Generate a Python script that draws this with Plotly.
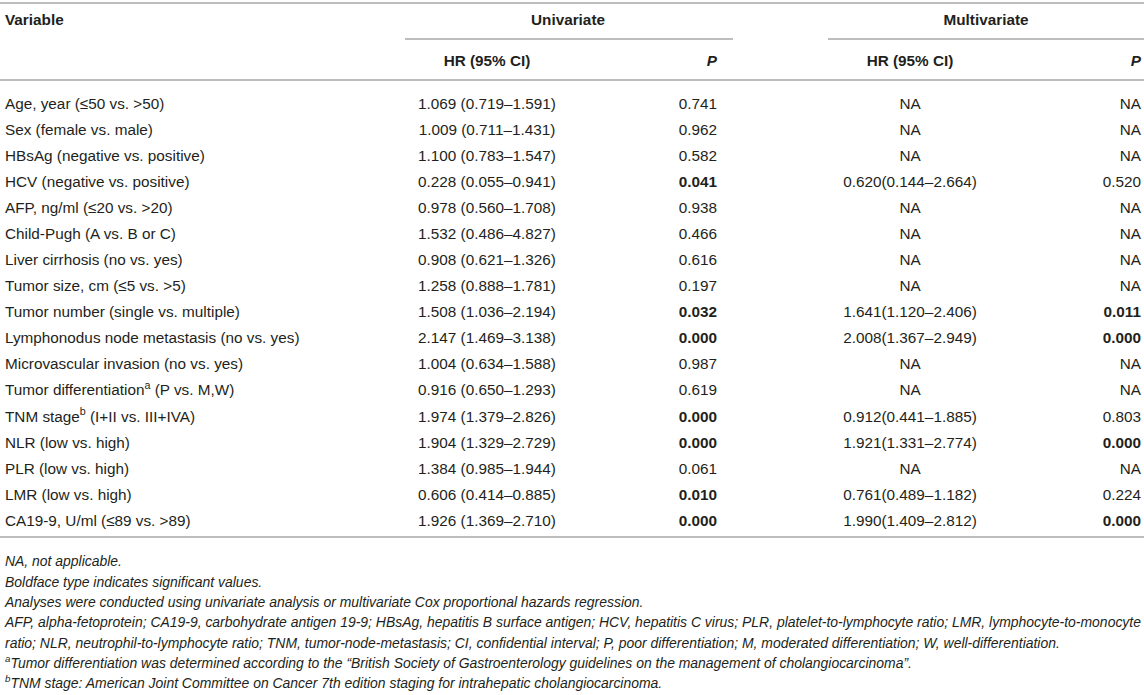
import plotly.graph_objects as go

# ---- table contents ----
variables = [
    "Age, year (≤50 vs. >50)",
    "Sex (female vs. male)",
    "HBsAg (negative vs. positive)",
    "HCV (negative vs. positive)",
    "AFP, ng/ml (≤20 vs. >20)",
    "Child-Pugh (A vs. B or C)",
    "Liver cirrhosis (no vs. yes)",
    "Tumor size, cm (≤5 vs. >5)",
    "Tumor number (single vs. multiple)",
    "Lymphonodus node metastasis (no vs. yes)",
    "Microvascular invasion (no vs. yes)",
    "Tumor differentiation<sup>a</sup> (P vs. M,W)",
    "TNM stage<sup>b</sup> (I+II vs. III+IVA)",
    "NLR (low vs. high)",
    "PLR (low vs. high)",
    "LMR (low vs. high)",
    "CA19-9, U/ml (≤89 vs. >89)",
]
uni_hr = [
    "1.069 (0.719–1.591)", "1.009 (0.711–1.431)", "1.100 (0.783–1.547)",
    "0.228 (0.055–0.941)", "0.978 (0.560–1.708)", "1.532 (0.486–4.827)",
    "0.908 (0.621–1.326)", "1.258 (0.888–1.781)", "1.508 (1.036–2.194)",
    "2.147 (1.469–3.138)", "1.004 (0.634–1.588)", "0.916 (0.650–1.293)",
    "1.974 (1.379–2.826)", "1.904 (1.329–2.729)", "1.384 (0.985–1.944)",
    "0.606 (0.414–0.885)", "1.926 (1.369–2.710)",
]
uni_p = ["0.741", "0.962", "0.582", "0.041", "0.938", "0.466", "0.616", "0.197",
         "0.032", "0.000", "0.987", "0.619", "0.000", "0.000", "0.061", "0.010",
         "0.000"]
multi_hr = ["NA", "NA", "NA", "0.620(0.144–2.664)", "NA", "NA", "NA", "NA",
            "1.641(1.120–2.406)", "2.008(1.367–2.949)", "NA", "NA",
            "0.912(0.441–1.885)", "1.921(1.331–2.774)", "NA",
            "0.761(0.489–1.182)", "1.990(1.409–2.812)"]
multi_p = ["NA", "NA", "NA", "0.520", "NA", "NA", "NA", "NA", "0.011", "0.000",
           "NA", "NA", "0.803", "0.000", "NA", "0.224", "0.000"]

footnotes = [
    "NA, not applicable.",
    "Boldface type indicates significant values.",
    "Analyses were conducted using univariate analysis or multivariate Cox proportional hazards regression.",
    "AFP, alpha-fetoprotein; CA19-9, carbohydrate antigen 19-9; HBsAg, hepatitis B surface antigen; HCV, hepatitis C virus; PLR, platelet-to-lymphocyte ratio; LMR, lymphocyte-to-monocyte",
    "ratio; NLR, neutrophil-to-lymphocyte ratio; TNM, tumor-node-metastasis; CI, confidential interval; P, poor differentiation; M, moderated differentiation; W, well-differentiation.",
    "<sup>a</sup>Tumor differentiation was determined according to the “British Society of Gastroenterology guidelines on the management of cholangiocarcinoma”.",
    "<sup>b</sup>TNM stage: American Joint Committee on Cancer 7th edition staging for intrahepatic cholangiocarcinoma.",
]


def bold_sig(p):
    # significant values are set in bold
    if p != "NA" and float(p) < 0.05:
        return "<b>" + p + "</b>"
    return p


W, H = 1144, 695
FONT = "Liberation Sans, Arial, Helvetica, sans-serif"
TXT = "#231f20"
LINE = "#a7a7a7"
FS = 15.3

row_y = [105 + 26.06 * i for i in range(len(variables))]
foot_y = [563 + 20.3 * i for i in range(len(footnotes))]

X_VAR, X_UHR, X_UP, X_MHR, X_MP = 5, 487, 717, 910, 1141


def text_col(x, y, labels, pos, size=FS, color=TXT, family=FONT):
    return go.Scatter(
        x=[x] * len(labels), y=y, text=labels, mode="text",
        textposition=pos, hoverinfo="skip", showlegend=False,
        textfont=dict(family=family, size=size, color=color),
    )


fig = go.Figure()

# header
fig.add_trace(text_col(X_VAR, [21], ["<b>Variable</b>"], "middle right"))
fig.add_trace(text_col(568, [21], ["<b>Univariate</b>"], "middle center"))
fig.add_trace(text_col(986, [21], ["<b>Multivariate</b>"], "middle center"))
fig.add_trace(text_col(X_UHR, [62], ["<b>HR (95% CI)</b>"], "middle center"))
fig.add_trace(text_col(X_MHR, [62], ["<b>HR (95% CI)</b>"], "middle center"))
fig.add_trace(text_col(X_UP, [62], ["<b><i>P</i></b>"], "middle left"))
fig.add_trace(text_col(X_MP, [62], ["<b><i>P</i></b>"], "middle left"))

# body
fig.add_trace(text_col(X_VAR, row_y, variables, "middle right"))
fig.add_trace(text_col(X_UHR, row_y, uni_hr, "middle center"))
fig.add_trace(text_col(X_UP, row_y, [bold_sig(p) for p in uni_p], "middle left"))
fig.add_trace(text_col(X_MHR, row_y, multi_hr, "middle center"))
fig.add_trace(text_col(X_MP, row_y, [bold_sig(p) for p in multi_p], "middle left"))

# footnotes
fig.add_trace(text_col(X_VAR, foot_y, ["<i>" + f + "</i>" for f in footnotes],
                       "middle right", size=13.95))

# rules
rules = [(0, W, 3), (405, 733, 39), (828, W, 39), (0, W, 80), (0, W, 537)]
for x0, x1, y in rules:
    fig.add_shape(type="line", x0=x0, x1=x1, y0=y, y1=y,
                  line=dict(color=LINE, width=1.6), layer="below")

fig.update_layout(
    width=W, height=H,
    margin=dict(l=0, r=0, t=0, b=0),
    paper_bgcolor="white", plot_bgcolor="white",
    xaxis=dict(range=[0, W], visible=False, fixedrange=True),
    yaxis=dict(range=[H, 0], visible=False, fixedrange=True),
    showlegend=False,
)

fig.write_html(
    "out.html",
    config={"displayModeBar": False},
    post_script="document.body.style.margin='0';document.body.style.overflow='hidden';",
)
